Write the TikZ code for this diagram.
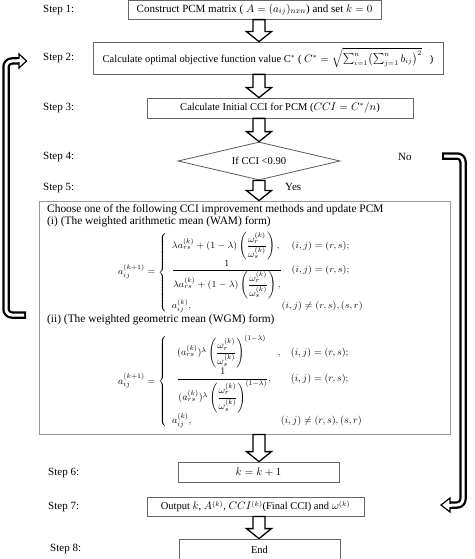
\documentclass[tikz,border=0pt]{standalone}
\usepackage{amsmath}
\usepackage{graphicx}
\usepackage{fontspec}
\setmainfont{Liberation Serif}
\usetikzlibrary{shapes.geometric,calc}
\newcommand\myfs{\fontsize{10.5}{12.5}\selectfont}
\newcommand\lblfs{\fontsize{11}{13}\selectfont}
\newcommand\infs{\fontsize{11.4}{13.5}\selectfont}
\newcommand\eqfs{\fontsize{10.2}{12}\selectfont}
\newcommand\blockarr[2]{%
  \draw[barr] let \p1=(#1.south), \p2=(#2.north) in
    (253pt,\y1) -- (253pt,\y2+10pt) -- (246.5pt,\y2+10pt) -- (259pt,\y2)
    -- (271.5pt,\y2+10pt) -- (265pt,\y2+10pt) -- (265pt,\y1) -- cycle;}
\begin{document}
\begin{tikzpicture}[x=1pt,y=-1pt,
  box/.style={draw=black!60,line width=0.8pt,inner sep=0pt,font=\myfs,align=center},
  bigbox/.style={draw=black!40,line width=0.9pt,inner sep=0pt},
  dia/.style={draw=black!65,line width=0.8pt,diamond,aspect=4,inner sep=0pt,font=\myfs},
  steplbl/.style={anchor=west,inner sep=0pt,font=\lblfs},
  txt/.style={anchor=west,inner sep=0pt,font=\infs},
  eqn/.style={anchor=west,inner sep=0pt,font=\eqfs},
  barr/.style={draw=black,line width=1.3pt,fill=white,line join=miter},
  loopouter/.style={line width=7.5pt,black,rounded corners=6pt},
  loopinner/.style={line width=3pt,white,rounded corners=6pt},
  loophead/.style={draw=black,line width=1.2pt,fill=white,line join=miter}]
\useasboundingbox (0,0) rectangle (474,559);

% boxes
\node[box,minimum width=253pt,minimum height=19pt,font=\fontsize{11}{13}\selectfont] (s1) at (254.5,9.75)
  {Construct PCM matrix ( $A=(a_{ij})_{nxn}$) and set $k=0$};
\node[box,minimum width=350pt,minimum height=32pt] (s2) at (268,58)
  {Calculate optimal objective function value C$^{*}$ ( $C^{*}=\sqrt{\sum_{i=1}^{n}\bigl(\sum_{j=1}^{n}b_{ij}\bigr)^{2}}$\ \ \ )};
\node[box,minimum width=266pt,minimum height=20pt] (s3) at (280,108)
  {Calculate Initial CCI for PCM ($CCI=C^{*}/n$)};
\node[dia,minimum width=162pt,minimum height=38pt] (s4) at (259,161) {If CCI <0.90};
\node[bigbox,minimum width=411pt,minimum height=233pt] (s5) at (244.5,317.5) {};
\node[box,minimum width=161pt,minimum height=20pt,font=\fontsize{11}{13}\selectfont] (s6) at (258.5,472) {$k=k+1$};
\node[box,minimum width=217pt,minimum height=19pt] (s7) at (255.5,506.5)
  {Output $k$, $A^{(k)}$, $CCI^{(k)}$(Final CCI) and $\omega^{(k)}$};
\node[box,minimum width=161pt,minimum height=22pt] (s8) at (259.5,550) {End};

% step labels
\node[steplbl] (l1) at (43,10) {Step 1:};
\node[steplbl] (l2) at (43,58) {Step 2:};
\node[steplbl] (l3) at (43,108) {Step 3:};
\node[steplbl] (l4) at (43,157) {Step 4:};
\node[steplbl] (l5) at (43,188) {Step 5:};
\node[steplbl] (l6) at (48,473) {Step 6:};
\node[steplbl] (l7) at (48,507) {Step 7:};
\node[steplbl] (l8) at (50,549) {Step 8:};
\node[steplbl] (no) at (398,157) {No};
\node[steplbl] (yes) at (285,187) {Yes};

% contents of step 5
\node[txt] (t1) at (47,210) {Choose one of the following CCI improvement methods and update PCM};
\node[txt] (t2) at (47,222) {(i) (The weighted arithmetic mean (WAM) form)};
\node[eqn,font=\fontsize{9.9}{11.5}\selectfont] (e1) at (118,272.5) {\scalebox{1}[0.93]{$a_{ij}^{(k+1)}=\left\{\begin{array}{@{\ \ }l@{\quad}l}
  \lambda a_{rs}^{(k)}+(1-\lambda)\left(\dfrac{\omega_r^{(k)}}{\omega_s^{(k)}}\right), & (i,j)=(r,s);\\
  \dfrac{1}{\lambda a_{rs}^{(k)}+(1-\lambda)\left(\dfrac{\omega_r^{(k)}}{\omega_s^{(k)}}\right),} & (i,j)=(r,s);\\
  a_{ij}^{(k)}, & \hspace{-10pt}(i,j)\neq(r,s),(s,r)
\end{array}\right.$}};
\node[txt] (t3) at (47,320) {(ii) (The weighted geometric mean (WGM) form)};
\node[eqn] (e2) at (118,381.5) {$a_{ij}^{(k+1)}=\left\{\begin{array}{@{\ \ }l@{\quad}l}
  \ \ (a_{rs}^{(k)})^{\lambda}\left(\dfrac{\omega_r^{(k)}}{\omega_s^{(k)}}\right)^{(1-\lambda)}\quad, & (i,j)=(r,s);\\[1pt]
  \ \ \dfrac{1}{(a_{rs}^{(k)})^{\lambda}\left(\dfrac{\omega_r^{(k)}}{\omega_s^{(k)}}\right)^{(1-\lambda)}}, & (i,j)=(r,s);\\[1pt]
  a_{ij}^{(k)}, & \hspace{-10pt}(i,j)\neq(r,s),(s,r)
\end{array}\right.$};

% block arrows
\blockarr{s1}{s2}
\blockarr{s2}{s3}
\blockarr{s3}{s4}
\blockarr{s4}{s5}
\blockarr{s5}{s6}
\blockarr{s7}{s8}

% left loop arrow (back to step 2)
\coordinate (la) at (26,315);
\coordinate (lc1) at (6,315);
\coordinate (lc2) at (6,61);
\coordinate (lb) at (19,61);
\coordinate (lt) at (26.5,61);
\draw[loopouter] (la) -- (lc1) -- (lc2) -- (lb);
\draw[loopinner] ($(la)+(-2,0)$) -- (lc1) -- (lc2) -- ($(lb)+(1,0)$);
\draw[loophead] ($(lb)+(0,-7)$) -- (lt) -- ($(lb)+(0,7)$) -- cycle;
\draw[line width=3pt,white] ($(lb)+(-2,0)$) -- ($(lb)+(1.2,0)$);

% right loop arrow (No branch to step 7)
\coordinate (ra) at (442,156);
\coordinate (rc1) at (463,156);
\coordinate (rc2) at (463,505);
\coordinate (rb) at (450,505);
\coordinate (rt) at (441,505);
\draw[loopouter] (ra) -- (rc1) -- (rc2) -- (rb);
\draw[loopinner] ($(ra)+(2,0)$) -- (rc1) -- (rc2) -- ($(rb)+(-1,0)$);
\draw[loophead] ($(rb)+(0,-7)$) -- (rt) -- ($(rb)+(0,7)$) -- cycle;
\draw[line width=3pt,white] ($(rb)+(2,0)$) -- ($(rb)+(-1.2,0)$);
\end{tikzpicture}
\end{document}
